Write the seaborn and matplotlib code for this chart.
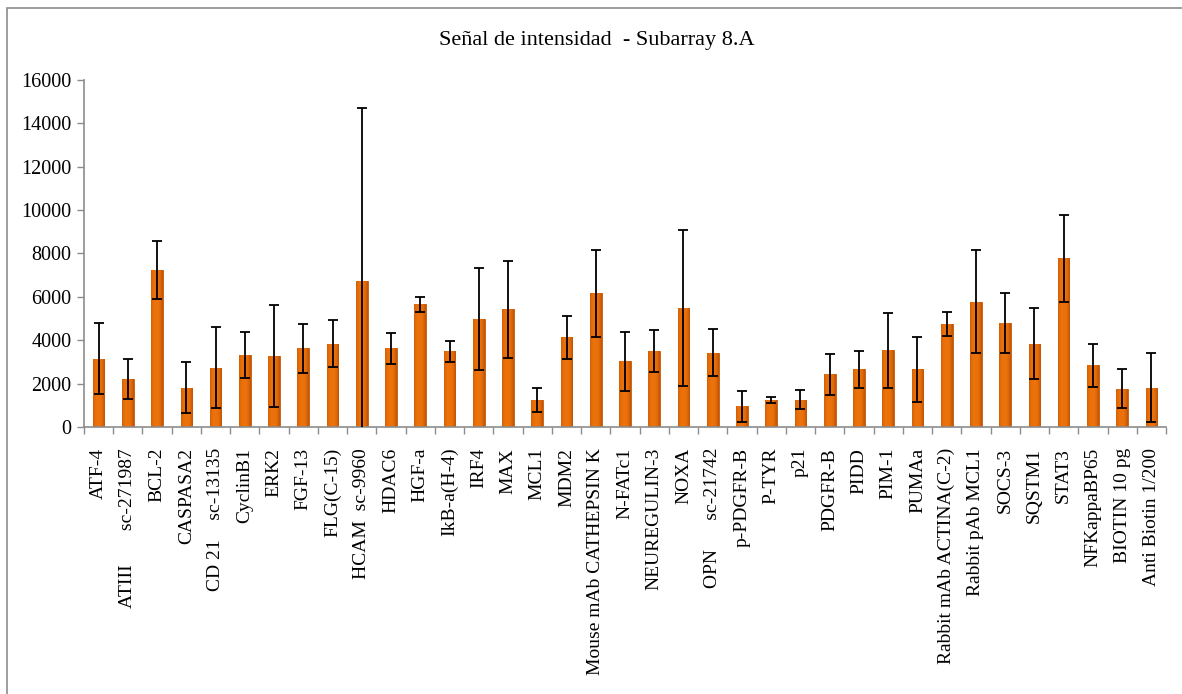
import numpy as np
import matplotlib
matplotlib.use("Agg")
import matplotlib.pyplot as plt
from matplotlib.patches import Rectangle
import seaborn as sns

# Antibody targets of subarray 8.A
labels = [
    "ATF-4", "ATIII       sc-271987", "BCL-2", "CASPASA2", "CD 21    sc-13135",
    "CyclinB1", "ERK2", "FGF-13", "FLG(C-15)", "HCAM  sc-9960", "HDAC6", "HGF-a",
    "IkB-a(H-4)", "IRF4", "MAX", "MCL1", "MDM2", "Mouse mAb CATHEPSIN K",
    "N-FATc1", "NEUREGULIN-3", "NOXA", "OPN      sc-21742", "p-PDGFR-B", "P-TYR",
    "p21", "PDGFR-B", "PIDD", "PIM-1", "PUMAa", "Rabbit mAb ACTINA(C-2)",
    "Rabbit pAb MCL1", "SOCS-3", "SQSTM1", "STAT3", "NFKappaBP65",
    "BIOTIN 10 pg", "Anti Biotin 1/200",
]

# Mean signal intensity per spot
means = [
    3150, 2200, 7230, 1820, 2740, 3310, 3260, 3620, 3850, 6720, 3620, 5650,
    3490, 4960, 5420, 1250, 4130, 6160, 3030, 3490, 5490, 3420, 960, 1230,
    1260, 2430, 2660, 3540, 2660, 4740, 5770, 4800, 3850, 7770, 2850,
    1770, 1820,
]

# Standard deviation of the replicates
errors = [
    1650, 920, 1330, 1170, 1870, 1070, 2350, 1110, 1070, 8000, 700, 340,
    480, 2350, 2220, 550, 1010, 2000, 1370, 960, 3600, 1080, 710, 140,
    450, 950, 850, 1730, 1500, 550, 2370, 1370, 1630, 2000, 1000,
    890, 1580,
]

yticks = list(range(0, 16001, 2000))

sns.set_theme(style="white")
plt.rcParams["font.family"] = ["Liberation Serif", "DejaVu Serif"]

W, H = 1182, 694
fig = plt.figure(figsize=(W / 100, H / 100), dpi=100)
fig.patch.set_facecolor("white")

# chart frame
fig.patches.append(Rectangle((7 / W, -0.05), 1.2, (H - 8) / H + 0.05,
                             transform=fig.transFigure, fill=False,
                             edgecolor="#8c8c8c", linewidth=1.2, zorder=0))

ax = fig.add_axes([84 / W, (H - 427) / H, (1166 - 84) / W, (427 - 80) / H])
ax.set_facecolor("none")

x = np.arange(len(labels))
sns.barplot(x=labels, y=means, color="#E36C09", width=0.4, errorbar=None,
            saturation=1, ax=ax, zorder=2)

# horizontal shading across each bar: darker rims, bright orange body
t = np.linspace(0, 1, 64)
mix = np.clip(np.abs(t - 0.45) / 0.5, 0, 1) ** 3
body = np.array([0.925, 0.445, 0.04])
rim = np.array([0.76, 0.34, 0.03])
img = (body[None, :] * (1 - mix[:, None]) + rim[None, :] * mix[:, None])[None, :, :]
for p in list(ax.patches):
    p.set_edgecolor("#C45C0C")
    p.set_linewidth(0.6)
    bx, by = p.get_x(), p.get_y()
    bw, bh = p.get_width(), p.get_height()
    im = ax.imshow(img, extent=(bx, bx + bw, by, by + bh), aspect="auto",
                   zorder=2.5, interpolation="bilinear")
    im.set_clip_path(p)

ax.errorbar(x, means, yerr=errors, fmt="none", ecolor="black",
            elinewidth=1.3, capsize=3.6, capthick=1.3, zorder=4)

ax.set_xlim(-0.5, len(labels) - 0.5)
ax.set_ylim(0, 16000)
ax.set_yticks(yticks)
ax.set_yticklabels([str(v) for v in yticks], fontsize=14.5)

ax.set_xticks(x)
ax.set_xticklabels(labels, rotation=90, fontsize=14, ha="center", va="top")
ax.set_xticks(np.arange(-0.5, len(labels), 1), minor=True)
ax.tick_params(axis="x", which="major", length=0, pad=15, colors="black")
ax.tick_params(axis="x", which="minor", length=5, width=1, color="#8c8c8c",
               direction="out", bottom=True)
ax.tick_params(axis="y", which="major", length=5, width=1, color="#8c8c8c",
               direction="out", left=True, pad=4, labelcolor="black")

for side in ("top", "right"):
    ax.spines[side].set_visible(False)
for side in ("left", "bottom"):
    ax.spines[side].set_color("#8c8c8c")
    ax.spines[side].set_linewidth(1.2)
ax.grid(False)
ax.set_xlabel("")
ax.set_ylabel("")

fig.text(597 / W, (H - 40) / H, "Señal de intensidad  - Subarray 8.A",
         ha="center", va="center", fontsize=16, color="black")

fig.savefig("out.png", dpi=100, facecolor="white")
